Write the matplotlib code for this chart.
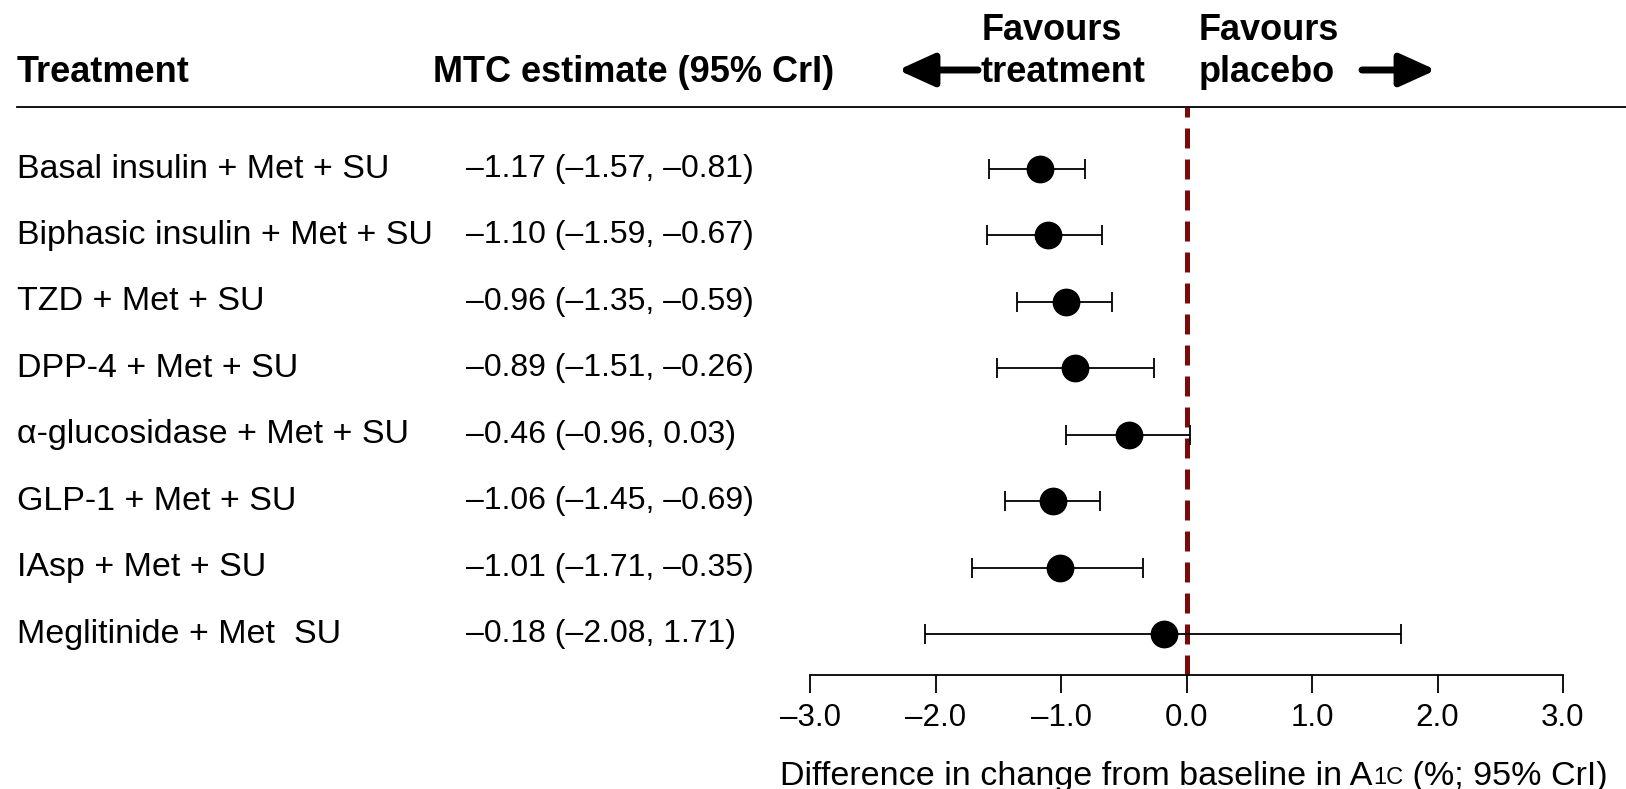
import matplotlib
matplotlib.use('Agg')
from matplotlib import pyplot as plt
from matplotlib.lines import Line2D
from matplotlib.patches import FancyArrowPatch
from matplotlib.offsetbox import TextArea, HPacker, AnchoredOffsetbox

plt.rcParams['font.family'] = ['Liberation Sans', 'DejaVu Sans']

treatments = ['Basal insulin + Met + SU', 'Biphasic insulin + Met + SU', 'TZD + Met + SU',
              'DPP-4 + Met + SU', '\u03b1-glucosidase + Met + SU', 'GLP-1 + Met + SU',
              'IAsp + Met + SU', 'Meglitinide + Met  SU']
est = [-1.17, -1.10, -0.96, -0.89, -0.46, -1.06, -1.01, -0.18]
lo = [-1.57, -1.59, -1.35, -1.51, -0.96, -1.45, -1.71, -2.08]
hi = [-0.81, -0.67, -0.59, -0.26, 0.03, -0.69, -0.35, 1.71]
ticks = [-3, -2, -1, 0, 1, 2, 3]


def fmt(v):
    return ('%.2f' % v).replace('-', '\u2013')


W, H = 1626, 789
fig = plt.figure(figsize=(W / 100, H / 100), dpi=100)

# forest panel: x from -3 to 3, rows 0..7
ax = fig.add_axes([810 / W, 1 - 675 / H, (1563 - 810) / W, (675 - 107) / H])
ax.set_xlim(-3, 3)
ax.set_ylim(7.617, -0.933)
rows = list(range(len(treatments)))
xerr = [[e - l for e, l in zip(est, lo)], [h - e for e, h in zip(est, hi)]]
ax.errorbar(est, rows, xerr=xerr, fmt='o', color='black', ms=19, elinewidth=1.3,
            capsize=7, capthick=1.3, zorder=3)
ax.axvline(0, color='#7a0a0a', lw=3.6, dashes=(4, 2.2), zorder=2)

for s in ['top', 'right', 'left']:
    ax.spines[s].set_visible(False)
ax.spines['bottom'].set_linewidth(1.3)
ax.set_yticks([])
ax.set_xticks(ticks)
ax.set_xticklabels([('%.1f' % t).replace('-', '\u2013') for t in ticks], fontsize=22.5)
ax.tick_params(axis='x', direction='out', length=13, width=1.3, pad=7)

# x label with small "1C"
parts = [TextArea('Difference in change from baseline in A', textprops=dict(size=24.5)),
         TextArea('1C', textprops=dict(size=17)),
         TextArea('\u00a0(%; 95% CrI)', textprops=dict(size=24.5))]
label = HPacker(children=parts, align='baseline', pad=0, sep=0)
fig.add_artist(AnchoredOffsetbox(loc='center', child=label, frameon=False, pad=0, borderpad=0,
                                 bbox_to_anchor=(1194 / W, 1 - 776 / H),
                                 bbox_transform=fig.transFigure))

# text columns
for i, name in enumerate(treatments):
    y = 1 - (169 + 66.43 * i) / H
    fig.text(17 / W, y, name, fontsize=24.5, va='center', ha='left')
    fig.text(466 / W, y, '%s (%s, %s)' % (fmt(est[i]), fmt(lo[i]), fmt(hi[i])),
             fontsize=23, va='center', ha='left')

# header
fig.text(17 / W, 1 - 73 / H, 'Treatment', fontsize=26, weight='bold', va='center')
fig.text(433 / W, 1 - 73 / H, 'MTC estimate (95% CrI)', fontsize=26, weight='bold', va='center')
fig.text(982 / W, 1 - 30 / H, 'Favours', fontsize=26, weight='bold', va='center', ha='left')
fig.text(980 / W, 1 - 73 / H, 'treatment', fontsize=26, weight='bold', va='center', ha='left')
fig.text(1199 / W, 1 - 30 / H, 'Favours', fontsize=26, weight='bold', va='center', ha='left')
fig.text(1199 / W, 1 - 73 / H, 'placebo', fontsize=26, weight='bold', va='center', ha='left')
fig.add_artist(Line2D([17 / W, 1], [1 - 107 / H, 1 - 107 / H], color='black', lw=1.3))

arrow = dict(arrowstyle='-|>,head_length=0.55,head_width=0.25', lw=5, color='black',
             mutation_scale=40, shrinkA=0, shrinkB=0)
fig.add_artist(FancyArrowPatch((978 / W, 1 - 70 / H), (898 / W, 1 - 70 / H),
                               transform=fig.transFigure, **arrow))
fig.add_artist(FancyArrowPatch((1362 / W, 1 - 70 / H), (1436 / W, 1 - 70 / H),
                               transform=fig.transFigure, **arrow))

plt.savefig('out.png', dpi=100)
